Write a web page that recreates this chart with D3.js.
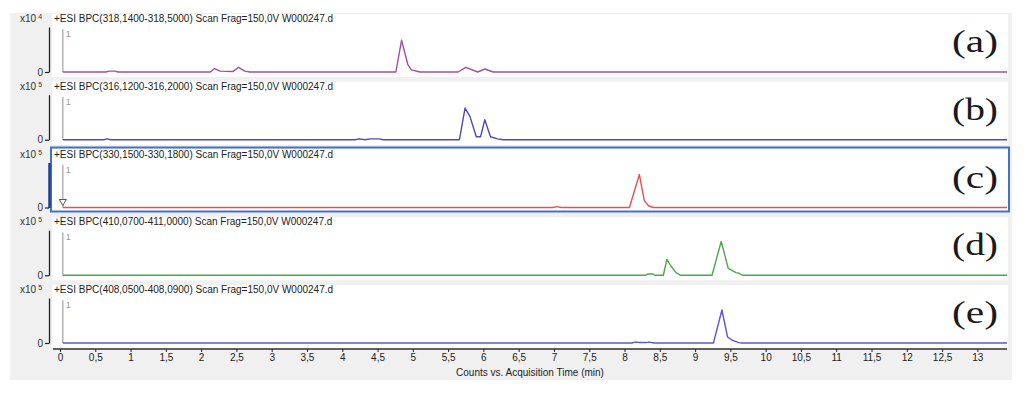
<!DOCTYPE html>
<html>
<head>
<meta charset="utf-8">
<script src="https://cdn.jsdelivr.net/npm/d3@7"></script>
<style>
  body { margin: 0; background: #fff; }
  svg { display: block; font-family: "Liberation Sans", Arial, sans-serif; }
</style>
</head>
<body>
<svg id="chart" width="1024" height="397"></svg>
<script>
// chromatogram traces, time in min, intensity in x10^n counts
var panelLabels = ["(a)", "(b)", "(c)", "(d)", "(e)"];
var panelTitles = [
  "+ESI BPC(318,1400-318,5000) Scan Frag=150,0V W000247.d",
  "+ESI BPC(316,1200-316,2000) Scan Frag=150,0V W000247.d",
  "+ESI BPC(330,1500-330,1800) Scan Frag=150,0V W000247.d",
  "+ESI BPC(410,0700-411,0000) Scan Frag=150,0V W000247.d",
  "+ESI BPC(408,0500-408,0900) Scan Frag=150,0V W000247.d"
];
var panelExponents = ["4", "5", "5", "5", "5"];
var panelColors = ["#a64ca8", "#4848c8", "#e85050", "#4aa84a", "#5858d8"];

var seriesA = [[0.04,0],[0.65,0],[0.7,0.02],[0.78,0.02],[0.82,0],[2.13,0],[2.19,0.08],[2.27,0.02],[2.45,0.01],[2.53,0.11],[2.62,0.02],[2.69,0],
  [4.76,0],[4.84,0.74],[4.93,0.17],[4.98,0.05],[5.1,0],[5.64,0],[5.75,0.11],[5.92,0],[6.02,0.07],[6.14,0],[13.42,0]];
var seriesB = [[0.04,0],[0.62,0],[0.67,0.02],[0.72,0],[4.18,0],[4.24,0.02],[4.32,0],[4.4,0.02],[4.52,0.02],[4.58,0],
  [5.66,0],[5.74,0.74],[5.81,0.54],[5.9,0.07],[5.96,0.07],[6.02,0.47],[6.1,0.07],[6.2,0.02],[6.28,0],[13.42,0]];
var seriesC = [[0.04,0],[6.98,0],[7.04,0.02],[7.1,0],[8.07,0],[8.21,0.77],[8.28,0.16],[8.34,0.04],[8.41,0],[13.42,0]];
var seriesD = [[0.04,0],[8.3,0],[8.33,0.03],[8.4,0.03],[8.43,0],[8.55,0],[8.6,0.37],[8.66,0.21],[8.73,0.06],[8.79,0],
  [9.24,0],[9.37,0.79],[9.47,0.16],[9.58,0.06],[9.62,0.05],[9.67,0],[13.42,0]];
var seriesE = [[0.04,0],[8.1,0],[8.15,0.02],[8.22,0.01],[8.3,0.01],[8.35,0.02],[8.42,0],
  [9.26,0],[9.38,0.77],[9.46,0.14],[9.53,0.06],[9.62,0.01],[9.66,0],[13.42,0]];
var allSeries = [seriesA, seriesB, seriesC, seriesD, seriesE];

var xTickValues = [0,0.5,1,1.5,2,2.5,3,3.5,4,4.5,5,5.5,6,6.5,7,7.5,8,8.5,9,9.5,10,10.5,11,11.5,12,12.5,13];
var xAxisTitle = "Counts vs. Acquisition Time (min)";

var svg = d3.select('#chart');

var FIRST_BASE = 72, PITCH = 67.75;
var x = d3.scaleLinear().domain([0, 13.42]).range([60, 1007]);

// gray window background
svg.append('rect').attr('x', 10).attr('y', 13).attr('width', 1002).attr('height', 367).attr('fill', '#f0f0f0');

var line = d3.line();

allSeries.forEach(function(series, i) {
    var base = FIRST_BASE + i * PITCH;
    var y = d3.scaleLinear().domain([0, 1.05]).range([base, base - 45]);
    var g = svg.append('g');

    g.append('rect').attr('x', 52).attr('y', base - 58).attr('width', 956).attr('height', 63).attr('fill', '#fff');

    if (i === 2) {
        g.append('rect').attr('x', 51).attr('y', base - 60).attr('width', 958).attr('height', 64)
            .attr('fill', 'none').attr('stroke', '#3f73c8').attr('stroke-width', 2);
    }

    // left axis
    var yAxis = g.append('g').attr('transform', 'translate(49,0)')
        .call(d3.axisLeft(y).tickValues([0]).tickSize(4).tickSizeOuter(0).tickPadding(2)
            .tickFormat(function(d) { return String(d); }));
    yAxis.select('.domain').attr('stroke', i === 2 ? '#1f3f90' : '#222').attr('stroke-width', i === 2 ? 2.5 : 1.3);
    yAxis.selectAll('.tick line').attr('stroke', '#222').attr('stroke-width', 1.2);
    yAxis.selectAll('.tick text').attr('fill', '#333').style('font-size', '10px')
        .style('font-family', '"Liberation Sans", Arial, sans-serif');

    // x10^n label
    var exp = g.append('text').attr('x', 20).attr('y', base - 50).attr('fill', '#333').style('font-size', '10px');
    exp.append('tspan').text('x10');
    exp.append('tspan').attr('dx', 2).attr('dy', -3).style('font-size', '7px').text(panelExponents[i]);

    g.append('text').attr('x', 54).attr('y', base - 50).attr('fill', '#222').style('font-size', '10px')
        .text(panelTitles[i]);

    // gray "1" marker
    g.append('line').attr('x1', x(0.04)).attr('x2', x(0.04)).attr('y1', y(0)).attr('y2', y(1))
        .attr('stroke', '#a0a0a0').attr('stroke-width', 1.2);
    g.append('text').attr('x', x(0.04) + 3).attr('y', y(1) + 8).attr('fill', '#999').style('font-size', '9px').text('1');

    if (i === 2) {
        var tx = x(0.04);
        g.append('path').attr('d', 'M' + (tx - 3.5) + ',' + (base - 8) + 'L' + (tx + 3.5) + ',' + (base - 8) + 'L' + tx + ',' + (base - 2) + 'Z')
            .attr('fill', '#fff').attr('stroke', '#555').attr('stroke-width', 1);
    }

    g.append('path')
        .attr('d', line(series.map(function(d) { return [x(d[0]), y(d[1])]; })))
        .attr('fill', 'none').attr('stroke', panelColors[i]).attr('stroke-width', 1.4)
        .attr('stroke-linejoin', 'round');

    g.append('text').attr('x', 998).attr('y', base - 20).attr('text-anchor', 'end')
        .attr('fill', '#1a1a1a').style('font-family', '"Liberation Serif", "Times New Roman", serif')
        .style('font-size', '32px')
        .attr('textLength', 46).attr('lengthAdjust', 'spacingAndGlyphs')
        .text(panelLabels[i]);
});

// bottom time axis
var xAxis = svg.append('g').attr('transform', 'translate(0,349)')
    .call(d3.axisBottom(x).tickValues(xTickValues).tickSize(3).tickSizeOuter(0).tickPadding(2)
        .tickFormat(function(d) { return String(d).replace('.', ','); }));
xAxis.select('.domain').attr('stroke', '#333').attr('stroke-width', 1.5)
    .attr('d', 'M53,0H1007');
xAxis.selectAll('.tick line').attr('stroke', '#222');
xAxis.selectAll('.tick text').attr('fill', '#222').style('font-size', '10px')
    .style('font-family', '"Liberation Sans", Arial, sans-serif');

svg.append('text').attr('x', 530).attr('y', 376).attr('text-anchor', 'middle')
    .attr('fill', '#222').style('font-size', '10px').text(xAxisTitle);
</script>
</body>
</html>
